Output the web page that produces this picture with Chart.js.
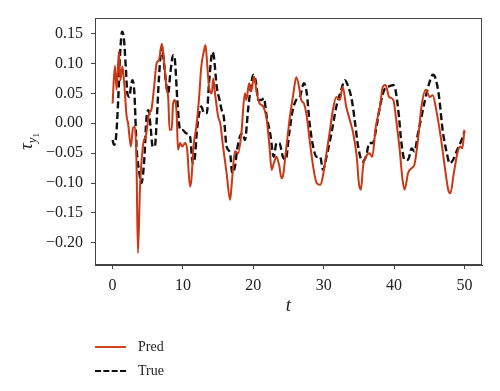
<!DOCTYPE html>
<html>
<head>
<meta charset="utf-8">
<script src="https://cdn.jsdelivr.net/npm/chart.js@4.4.1/dist/chart.umd.min.js"></script>
<style>
  html, body { margin: 0; padding: 0; background: #fff; }
  #wrap { position: relative; width: 500px; height: 391px; }
  #legend { position: absolute; left: 95px; top: 335px; font-family: "Liberation Serif", serif; font-size: 14px; color: #222; }
  .item { display: flex; align-items: center; height: 24px; }
  .swatch { width: 31px; margin-right: 12px; }
  .pred { border-top: 2px solid #d4451f; }
  .true { border-top: 2px dashed #111; }
</style>
</head>
<body>
<div id="wrap">
  <canvas id="chart" width="500" height="391"></canvas>
  <div id="legend">
    <div class="item"><span class="swatch pred"></span>Pred</div>
    <div class="item"><span class="swatch true"></span>True</div>
  </div>
</div>
<script>
// values
const predT = [0, 0.33, 0.57, 0.9, 1.1, 1.4, 1.65, 2.0, 2.2, 2.6, 2.9, 3.2, 3.4, 3.6, 3.9, 4.3, 4.8, 5.2, 5.5, 5.9,
  6.25, 6.6, 7.0, 7.2, 7.7, 7.9, 8.1, 8.4, 8.6, 8.85, 9.1, 9.3, 9.6, 9.9, 10.3, 10.6, 11.0, 11.2, 11.5, 11.9,
  12.3, 12.6, 13.0, 13.2, 13.4, 13.7, 14.1, 14.3, 14.5, 15.0, 15.3, 15.7, 16.2, 16.7, 16.9, 17.4, 17.85, 18.3, 18.8, 19.0,
  19.4, 19.7, 20.1, 20.5, 20.9, 21.4, 21.9, 22.3, 22.6, 22.9, 23.3, 23.7, 24.0, 24.2, 24.6, 25.2, 25.7, 26.1, 26.5, 26.8,
  27.2, 27.6, 28.0, 28.5, 29.0, 29.5, 29.8, 30.4, 30.9, 31.3, 31.8, 32.3, 32.7, 33.2, 33.7, 34.2, 34.7, 35.0, 35.3, 35.6,
  36.0, 36.5, 36.9, 37.4, 38.0, 38.4, 38.8, 39.3, 39.9, 40.3, 40.8, 41.2, 41.5, 42.0, 42.5, 42.9, 43.4, 43.9, 44.5, 45.1,
  45.5, 46.0, 46.7, 47.2, 47.7, 48.0, 48.5, 49.0, 49.4, 49.7, 50.0];
const predY = [0.033, 0.096, 0.056, 0.12, 0.072, 0.095, 0.067, 0.011, 0.0, -0.039, -0.008, -0.006, -0.067, -0.217, -0.106, -0.039, -0.017, 0.017, 0.022, 0.061,
  0.1, 0.106, 0.133, 0.117, 0.056, 0.044, -0.011, -0.011, 0.033, 0.039, 0.017, -0.044, -0.033, -0.039, -0.033, -0.044, -0.106, -0.094, -0.039, -0.006,
  0.044, 0.094, 0.122, 0.131, 0.106, 0.061, 0.05, 0.075, 0.056, 0.011, 0.0, -0.039, -0.083, -0.128, -0.106, -0.047, -0.05, -0.017, 0.05, 0.039,
  0.067, 0.053, 0.078, 0.05, 0.033, 0.028, 0.006, -0.039, -0.078, -0.067, -0.056, -0.072, -0.092, -0.089, -0.05, 0.011, 0.05, 0.077, 0.061, 0.039,
  0.033, 0.011, -0.028, -0.072, -0.1, -0.103, -0.094, -0.05, -0.011, 0.022, 0.044, 0.039, 0.061, 0.028, 0.006, -0.017, -0.056, -0.1, -0.111, -0.072,
  -0.056, -0.05, -0.056, -0.006, 0.028, 0.061, 0.064, 0.044, 0.039, 0.006, -0.044, -0.094, -0.111, -0.083, -0.075, -0.069, -0.028, 0.028, 0.056, 0.044,
  0.047, 0.022, -0.028, -0.072, -0.111, -0.117, -0.083, -0.05, -0.039, -0.042, -0.011];

const trueT = [0, 0.2, 0.5, 0.8, 1.1, 1.35, 1.6, 1.9, 2.1, 2.4, 2.6, 2.8, 3.1, 3.4, 3.8, 4.1, 4.5, 4.8, 5.1, 5.4,
  5.7, 6.0, 6.3, 6.6, 7.0, 7.3, 7.6, 7.9, 8.2, 8.6, 8.85, 9.2, 9.6, 9.9, 10.5, 11.0, 11.4, 11.7, 12.0, 12.4,
  12.6, 13.0, 13.4, 13.7, 14.2, 14.4, 14.8, 15.2, 15.5, 15.8, 16.2, 16.7, 17.0, 17.4, 17.7, 18.1, 18.5, 18.8, 19.3, 19.6,
  20.0, 20.4, 20.7, 21.2, 21.5, 21.9, 22.4, 22.9, 23.3, 23.7, 24.2, 24.6, 25.1, 25.6, 26.1, 26.6, 27.2, 27.6, 28.0, 28.5,
  29.0, 29.5, 29.9, 30.4, 31.1, 31.8, 32.5, 33.0, 33.5, 34.0, 34.4, 34.9, 35.5, 36.0, 36.5, 37.0, 37.5, 38.0, 38.7, 39.4,
  39.9, 40.2, 40.7, 41.0, 41.5, 42.0, 42.5, 42.9, 43.4, 43.9, 44.4, 45.0, 45.5, 45.9, 46.4, 46.9, 47.5, 47.9, 48.4, 49.0,
  49.6, 50.0];
const trueY = [-0.028, -0.036, -0.022, 0.039, 0.122, 0.153, 0.142, 0.089, 0.05, 0.044, 0.061, 0.072, 0.05, -0.039, -0.083, -0.1, -0.061, 0.006, 0.022, -0.006,
  -0.039, -0.039, 0.011, 0.078, 0.128, 0.1, 0.067, 0.05, 0.083, 0.114, 0.106, 0.039, -0.011, -0.011, -0.017, -0.022, -0.067, -0.056, -0.011, 0.022,
  0.028, 0.017, 0.017, 0.067, 0.119, 0.111, 0.061, 0.039, 0.022, 0.011, -0.039, -0.05, -0.083, -0.072, -0.044, -0.022, -0.017, -0.028, 0.028, 0.056,
  0.081, 0.067, 0.039, 0.039, 0.042, 0.011, -0.017, -0.056, -0.033, -0.033, -0.056, -0.061, -0.017, 0.022, 0.039, 0.044, 0.067, 0.05, 0.0, -0.039,
  -0.056, -0.056, -0.078, -0.056, -0.017, 0.028, 0.056, 0.072, 0.061, 0.039, 0.006, -0.039, -0.064, -0.056, -0.033, -0.033, -0.006, 0.028, 0.058, 0.062,
  0.064, 0.056, 0.011, -0.028, -0.061, -0.061, -0.042, -0.047, -0.017, 0.011, 0.039, 0.067, 0.081, 0.075, 0.044, -0.011, -0.05, -0.067, -0.061, -0.044,
  -0.028, -0.014];

const xTicks = [0, 10, 20, 30, 40, 50];
const yTicks = [-0.20, -0.15, -0.10, -0.05, 0.00, 0.05, 0.10, 0.15];

const serif = '"Liberation Serif", "Times New Roman", serif';
const ink = '#222';

// frame on all four sides + rotated y label with nested subscripts
const framePlugin = {
  id: 'frame',
  afterDraw(chart) {
    const { ctx, chartArea: a } = chart;
    ctx.save();
    ctx.strokeStyle = '#444';
    ctx.lineWidth = 1;
    ctx.strokeRect(a.left + 0.5, a.top + 0.5, a.right - a.left - 1, a.bottom - a.top - 1);

    ctx.translate(27, (a.top + a.bottom) / 2);
    ctx.rotate(-Math.PI / 2);
    ctx.fillStyle = ink;
    ctx.textBaseline = 'alphabetic';
    ctx.font = 'italic 19px ' + serif;
    const w1 = ctx.measureText('τ').width;
    ctx.font = 'italic 13px ' + serif;
    const w2 = ctx.measureText('y').width;
    ctx.font = '9px ' + serif;
    const w3 = ctx.measureText('1').width;
    let x = -(w1 + w2 + w3) / 2;
    ctx.font = 'italic 19px ' + serif;
    ctx.fillText('τ', x, 5);
    x += w1;
    ctx.font = 'italic 13px ' + serif;
    ctx.fillText('y', x, 9);
    x += w2;
    ctx.font = '9px ' + serif;
    ctx.fillText('1', x, 12);
    ctx.restore();
  }
};

new Chart(document.getElementById('chart'), {
  type: 'line',
  data: {
    datasets: [
      {
        label: 'Pred',
        data: predT.map((t, i) => ({ x: t, y: predY[i] })),
        borderColor: '#cc3714',
        borderWidth: 2,
        pointRadius: 0,
        cubicInterpolationMode: 'monotone'
      },
      {
        label: 'True',
        data: trueT.map((t, i) => ({ x: t, y: trueY[i] })),
        borderColor: '#111',
        borderWidth: 2.4,
        borderDash: [7, 3.5],
        pointRadius: 0,
        cubicInterpolationMode: 'monotone'
      }
    ]
  },
  options: {
    responsive: false,
    animation: false,
    layout: { padding: { left: 0, right: 18, top: 18, bottom: 74 } },
    plugins: { legend: { display: false }, tooltip: { enabled: false } },
    scales: {
      x: {
        type: 'linear',
        min: -2.5,
        max: 52.5,
        afterBuildTicks: s => { s.ticks = xTicks.map(v => ({ value: v })); },
        afterFit: s => { s.height = 52; },
        grid: { drawOnChartArea: false, tickLength: 4, tickColor: '#444' },
        border: { color: '#444' },
        ticks: { color: ink, font: { family: serif, size: 16 }, padding: 7, maxRotation: 0 },
        title: { display: true, text: 't', color: ink, font: { family: serif, size: 19, style: 'italic' }, padding: 0 }
      },
      y: {
        min: -0.237,
        max: 0.176,
        afterBuildTicks: s => { s.ticks = yTicks.map(v => ({ value: v })); },
        afterFit: s => { s.width = 95; },
        grid: { drawOnChartArea: false, tickLength: 4, tickColor: '#444' },
        border: { color: '#444' },
        ticks: {
          color: ink,
          font: { family: serif, size: 16 },
          padding: 8,
          callback: v => v.toFixed(2).replace('-', '\u2212')
        }
      }
    }
  },
  plugins: [framePlugin]
});
</script>
</body>
</html>
